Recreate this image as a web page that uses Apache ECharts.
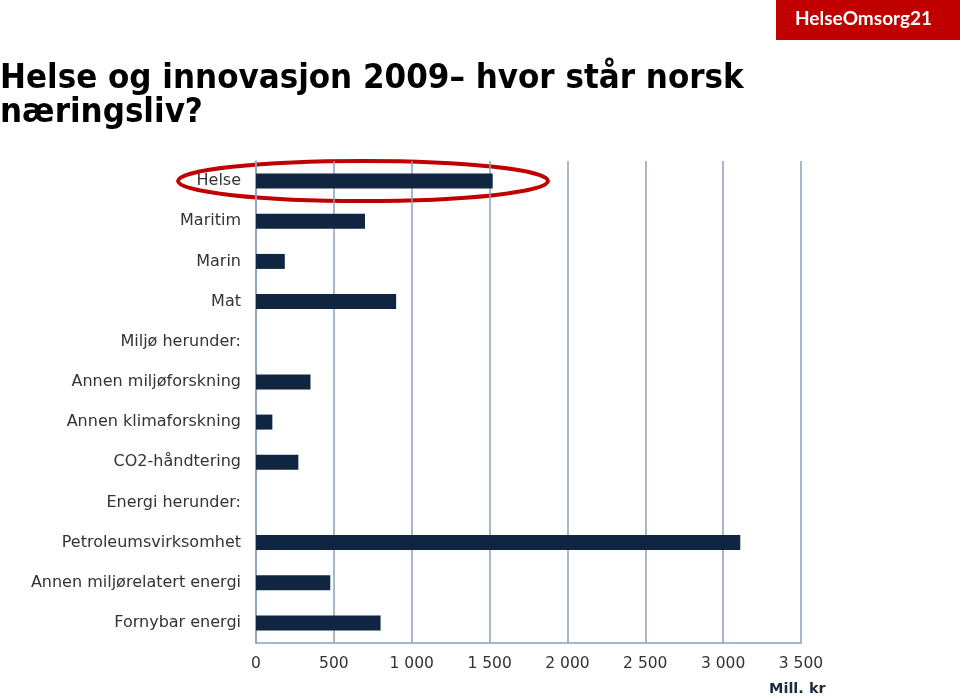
<!DOCTYPE html>
<html><head><meta charset="utf-8">
<script src="https://cdn.jsdelivr.net/npm/echarts@6/dist/echarts.min.js"></script>
<style>html,body{margin:0;padding:0;background:#fff}#c{width:960px;height:700px}</style>
</head><body><div id="c"></div>
<script>
const categories = ["Helse","Maritim","Marin","Mat","Miljø herunder:","Annen miljøforskning","Annen klimaforskning","CO2-håndtering","Energi herunder:","Petroleumsvirksomhet","Annen miljørelatert energi","Fornybar energi"];
const values = [1520, 700, 185, 900, null, 350, 105, 272, null, 3110, 477, 800];
const xTicks = {min: 0, max: 3500, interval: 500};

const chart = echarts.init(document.getElementById('c'), null, {renderer: 'canvas'});
const gridColor = '#8aa0ba';
chart.setOption({
  animation: false,
  backgroundColor: '#fff',
  grid: {left: 256, right: 159, top: 161, bottom: 57, containLabel: false},
  xAxis: {
    type: 'value', min: xTicks.min, max: xTicks.max, interval: xTicks.interval,
    axisLine: {show: true, lineStyle: {color: gridColor, width: 1.5}},
    axisTick: {show: false},
    splitLine: {show: true, lineStyle: {color: gridColor, width: 1.5}},
    axisLabel: {
      color: '#333', fontFamily: 'DejaVu Sans', fontSize: 15.5, margin: 13,
      formatter: v => v >= 1000 ? Math.floor(v/1000) + ' ' + String(v%1000).padStart(3,'0') : String(v)
    }
  },
  yAxis: {
    type: 'category', data: categories, inverse: true,
    axisLine: {show: true, lineStyle: {color: gridColor, width: 1.5}},
    axisTick: {show: false},
    splitLine: {show: false},
    axisLabel: {color: '#333', fontFamily: 'DejaVu Sans', fontSize: 16, margin: 15, padding: [3, 0, 0, 0]}
  },
  series: [{
    type: 'bar', data: values, barWidth: 15,
    itemStyle: {color: '#0f2542'}
  }],
  graphic: [
    {type: 'rect', left: 776, top: 0, shape: {width: 184, height: 40}, style: {fill: '#c00000'}},
    {type: 'text', left: 795, top: 9, style: {text: 'HelseOmsorg21', fill: '#fff', font: 'bold 19px Lato'}},
    {type: 'text', left: 0, top: 62, style: {text: 'Helse og innovasjon 2009– hvor står norsk\nnæringsliv?', fill: '#000', font: 'bold 34.5px "DejaVu Sans Condensed", "DejaVu Sans"', lineHeight: 34}},
    {type: 'ellipse', shape: {cx: 363, cy: 181, rx: 185, ry: 20}, style: {fill: 'none', stroke: '#c00000', lineWidth: 4}},
    {type: 'text', left: 769, top: 682, style: {text: 'Mill. kr', fill: '#1a2a40', font: 'bold 14.5px "DejaVu Sans"'}}
  ]
});
</script></body></html>
